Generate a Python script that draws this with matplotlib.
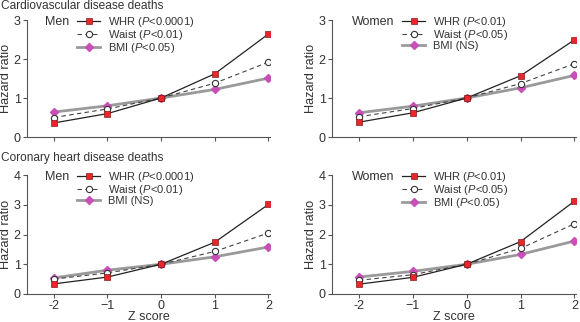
import matplotlib.pyplot as plt
import numpy as np

plt.rcParams['font.family'] = ['Liberation Sans', 'DejaVu Sans']
plt.rcParams['mathtext.fontset'] = 'custom'
plt.rcParams['mathtext.rm'] = 'Liberation Sans'
plt.rcParams['mathtext.it'] = 'Liberation Sans:italic'

z = [-2, -1, 0, 1, 2]

# cardiovascular disease deaths
cvd_men_whr = [0.36, 0.60, 1.0, 1.62, 2.64]
cvd_men_waist = [0.50, 0.72, 1.0, 1.38, 1.92]
cvd_men_bmi = [0.64, 0.80, 1.0, 1.22, 1.51]
cvd_women_whr = [0.38, 0.62, 1.0, 1.57, 2.49]
cvd_women_waist = [0.52, 0.73, 1.0, 1.37, 1.88]
cvd_women_bmi = [0.62, 0.79, 1.0, 1.26, 1.58]

# coronary heart disease deaths
chd_men_whr = [0.34, 0.57, 1.0, 1.74, 3.01]
chd_men_waist = [0.50, 0.71, 1.0, 1.43, 2.05]
chd_men_bmi = [0.54, 0.80, 1.0, 1.25, 1.58]
chd_women_whr = [0.33, 0.56, 1.0, 1.76, 3.12]
chd_women_waist = [0.46, 0.65, 1.0, 1.53, 2.36]
chd_women_bmi = [0.57, 0.76, 1.0, 1.33, 1.78]

panels = [
    ('Men', cvd_men_whr, cvd_men_waist, cvd_men_bmi,
     ['WHR (', 'P', '<0.0001)'], ['Waist (', 'P', '<0.01)'], ['BMI (', 'P', '<0.05)']),
    ('Women', cvd_women_whr, cvd_women_waist, cvd_women_bmi,
     ['WHR (', 'P', '<0.01)'], ['Waist (', 'P', '<0.05)'], ['BMI (NS)']),
    ('Men', chd_men_whr, chd_men_waist, chd_men_bmi,
     ['WHR (', 'P', '<0.0001)'], ['Waist (', 'P', '<0.01)'], ['BMI (NS)']),
    ('Women', chd_women_whr, chd_women_waist, chd_women_bmi,
     ['WHR (', 'P', '<0.01)'], ['Waist (', 'P', '<0.05)'], ['BMI (', 'P', '<0.05)']),
]

def label(parts):
    if len(parts) == 1:
        return parts[0]
    return parts[0] + r'$\mathit{' + parts[1] + '}$' + parts[2]

txt = '#333333'
fig = plt.figure(figsize=(5.8, 3.22), dpi=100)

boxes = [
    [27/580, 1-137/322, 243/580, 117/322],
    [332/580, 1-137/322, 244/580, 117/322],
    [27/580, 1-294/322, 243/580, 119/322],
    [332/580, 1-294/322, 244/580, 119/322],
]

for i, (sex, whr, waist, bmi, lw_, la_, lb_) in enumerate(panels):
    ax = fig.add_axes(boxes[i])
    l3, = ax.plot(z, bmi, '-', color='#9a9a9a', lw=2.0, marker='D', ms=4.2,
                  mfc='#c84fb8', mec='#c84fb8', zorder=2)
    l2, = ax.plot(z, waist, '--', color='#444444', lw=0.8, dashes=(4, 3), marker='o', ms=4.5,
                  mfc='white', mec='#333333', mew=0.8, zorder=3)
    l1, = ax.plot(z, whr, '-', color='#222222', lw=0.9, marker='s', ms=4.5,
                  mfc='#e8262b', mec='#8a1a1a', mew=0.5, zorder=4)

    ax.set_xlim(-2.5, 2.03)
    top = 3 if i < 2 else 4
    ax.set_ylim(0, top)
    ax.set_yticks(range(top + 1))
    ax.set_xticks(z)
    for s in ['top', 'right']:
        ax.spines[s].set_visible(False)
    for s in ['left', 'bottom']:
        ax.spines[s].set_color('#555555')
        ax.spines[s].set_linewidth(0.8)
    ax.tick_params(colors='#555555', labelcolor=txt, labelsize=9, width=0.8, length=3, pad=1.5)
    if i < 2:
        ax.set_xticklabels([])
    else:
        ax.set_xticklabels(['-2', '\u22121', '0', '1', '2'])
        ax.set_xlabel('Z score', fontsize=9, color=txt, labelpad=-1)
    ax.set_ylabel('Hazard ratio', fontsize=9.2, color=txt, labelpad=1)

    xoff = 0.074 if sex == 'Men' else 0.082
    ax.text(xoff, 0.985, sex, transform=ax.transAxes, fontsize=9, color=txt,
            va='center', ha='left')
    leg = ax.legend([l1, l2, l3], [label(lw_), label(la_), label(lb_)],
                    loc='upper left', bbox_to_anchor=(0.206 if sex == 'Men' else 0.287, 1.04),
                    frameon=False, fontsize=8, handlelength=2.1, handletextpad=0.7,
                    labelspacing=-0.1, borderaxespad=0, borderpad=0)
    for t in leg.get_texts():
        t.set_color(txt)

fig.text(0.002, 1-6/322, 'Cardiovascular disease deaths', fontsize=8.6, color=txt,
         va='center', ha='left')
fig.text(0.002, 1-158/322, 'Coronary heart disease deaths', fontsize=8.6, color=txt,
         va='center', ha='left')

fig.savefig('out.png', dpi=100)
